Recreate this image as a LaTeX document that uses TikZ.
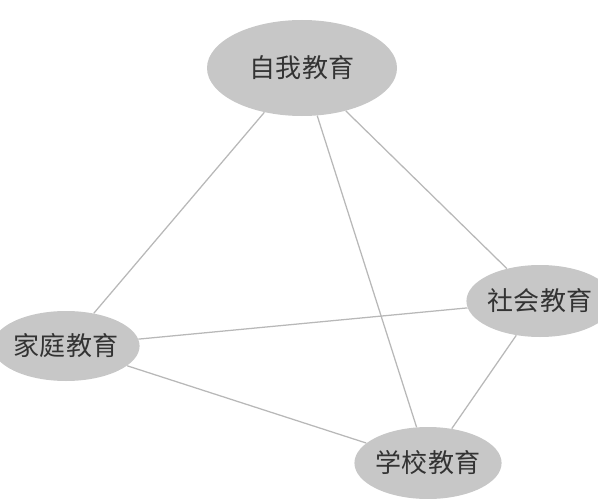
\documentclass[tikz,border=0pt]{standalone}
\usepackage{fontspec}
\newfontfamily\cjk{Noto Sans CJK SC}
\usetikzlibrary{shapes.geometric}
\begin{document}
\begin{tikzpicture}[
      x=0.025cm, y=-0.025cm,
      edu/.style={
        ellipse,
        fill=black!22,
        draw=none,
        inner sep=0pt,
        font=\cjk\fontsize{18.5}{21}\selectfont,
        text=black!80
      },
      link/.style={
        line width=0.9pt,
        black!28
      }
    ]
    \useasboundingbox (0,0) rectangle (598,499);

    % Nodes
    \node[edu, minimum width=190*0.025cm, minimum height=96*0.025cm] (Self) at (302,68) {自我教育};
    \node[edu, minimum width=122*0.025cm, minimum height=70*0.025cm] (Family) at (66,346) {家庭教育};
    \node[edu, minimum width=116*0.025cm, minimum height=72*0.025cm] (Society) at (540,301) {社会教育};
    \node[edu, minimum width=120*0.025cm, minimum height=72*0.025cm] (School) at (428,463) {学校教育};

    % Links
    \draw[link] (Self) -- (Family);
    \draw[link] (Self) -- (School);
    \draw[link] (Self) -- (Society);
    \draw[link] (Family) -- (Society);
    \draw[link] (Family) -- (School);
    \draw[link] (Society) -- (School);
    \end{tikzpicture}
\end{document}
